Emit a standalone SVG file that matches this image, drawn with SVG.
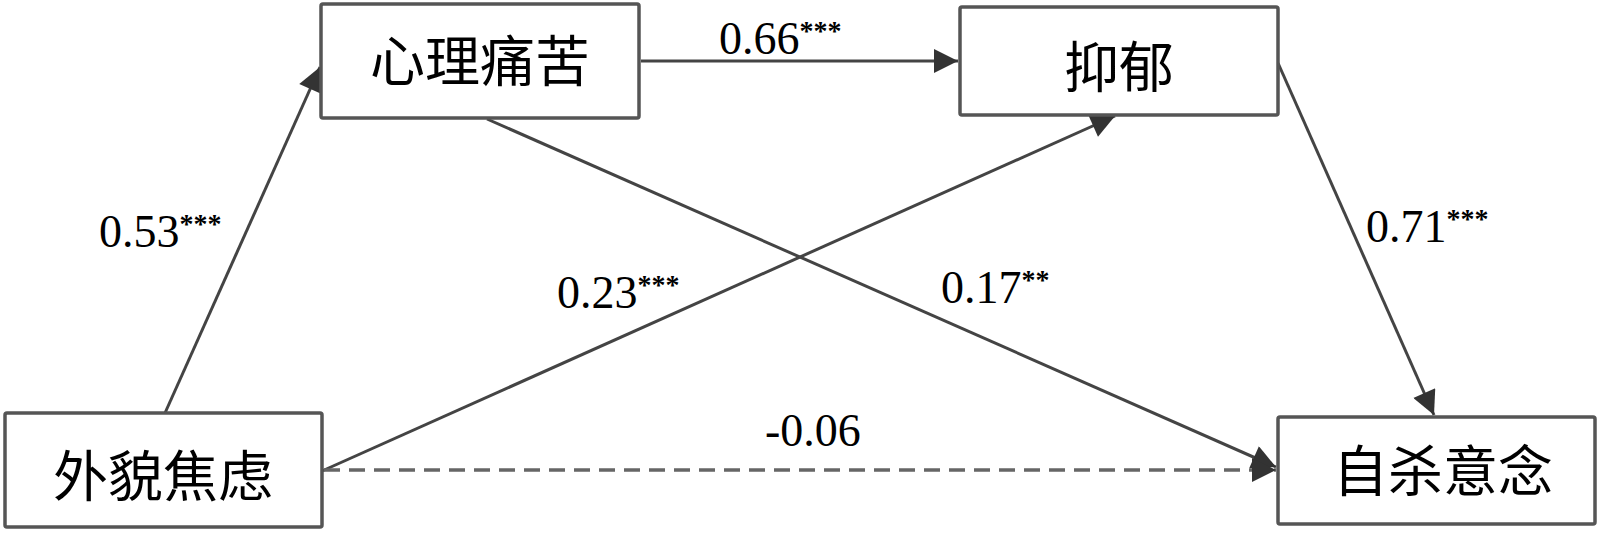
<svg xmlns="http://www.w3.org/2000/svg" width="1600" height="534" viewBox="0 0 1600 534">
<defs>
<marker id="ah" viewBox="0 0 10 10" refX="10" refY="5" markerWidth="27" markerHeight="24" markerUnits="userSpaceOnUse" orient="auto">
<path d="M0,0 L10,5 L0,10 z" fill="#333"/>
</marker>
<style>
.box{fill:#fff;stroke:#555;stroke-width:3.5}
.cn{font-family:"Noto Sans CJK SC","Noto Sans CJK JP",sans-serif;font-size:55px;font-weight:400;fill:#000;text-anchor:middle}
.ln{stroke:#444;stroke-width:3;fill:none;marker-end:url(#ah)}
.dash{stroke-dasharray:16 9;stroke:#666;stroke-width:3.5}
.lb{font-family:"Liberation Serif","Times New Roman",serif;font-size:46px;fill:#000}
.sup{font-size:28px;font-weight:bold}
</style>
</defs>
<rect width="1600" height="534" fill="#fff"/>
<g id="connectors">
<line class="ln" x1="165" y1="413" x2="320" y2="67"/>
<line class="ln" x1="641" y1="61" x2="958" y2="61"/>
<line class="ln" x1="322" y1="471" x2="1115" y2="116"/>
<line class="ln" x1="487" y1="119" x2="1276" y2="467"/>
<line class="ln" x1="1278" y1="63" x2="1434" y2="415"/>
<line class="ln dash" x1="324" y1="470" x2="1276" y2="470"/>
</g>
<g id="n-xinli">
<rect class="box" x="321" y="4" width="318" height="114" rx="2"/>
<text class="cn" x="480" y="81">心理痛苦</text>
</g>
<g id="n-yiyu">
<rect class="box" x="960" y="7" width="318" height="108" rx="2"/>
<text class="cn" x="1119" y="87">抑郁</text>
</g>
<g id="n-waimao">
<rect class="box" x="5" y="413" width="317" height="114" rx="2"/>
<text class="cn" x="163" y="496">外貌焦虑</text>
</g>
<g id="n-zisha">
<rect class="box" x="1278" y="417" width="317" height="107" rx="2"/>
<text class="cn" x="1443" y="491">自杀意念</text>
</g>
<g id="labels">
<text class="lb" x="719" y="54">0.66<tspan class="sup" dy="-14">***</tspan></text>
<text class="lb" x="99" y="247">0.53<tspan class="sup" dy="-14">***</tspan></text>
<text class="lb" x="557" y="308">0.23<tspan class="sup" dy="-14">***</tspan></text>
<text class="lb" x="941" y="303">0.17<tspan class="sup" dy="-14">**</tspan></text>
<text class="lb" x="1366" y="242">0.71<tspan class="sup" dy="-14">***</tspan></text>
<text class="lb" x="765" y="446">-0.06</text>
</g>
</svg>
